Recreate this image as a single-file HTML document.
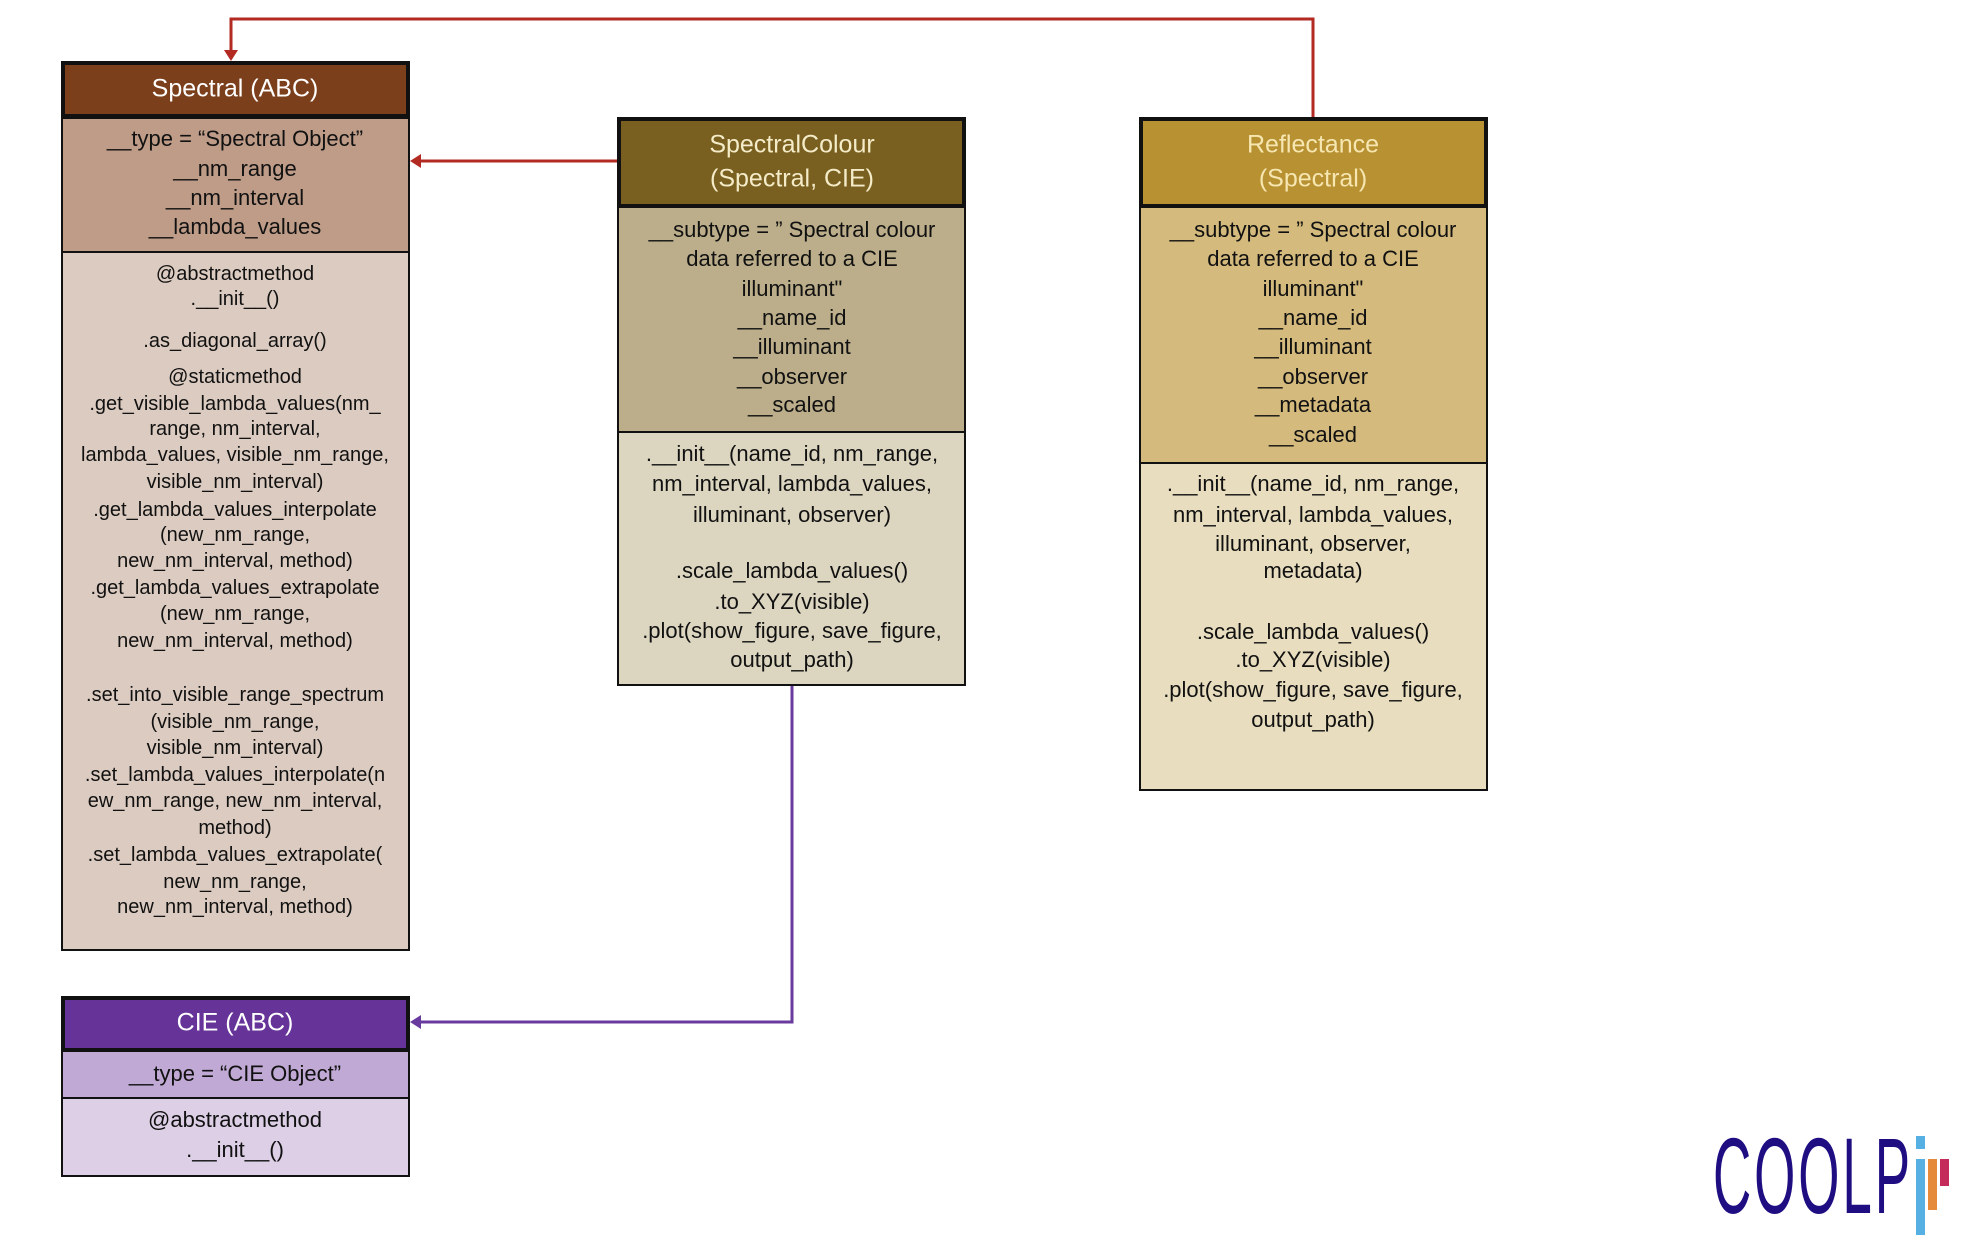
<!DOCTYPE html>
<html><head><meta charset="utf-8">
<style>
html,body{margin:0;padding:0;background:#fff;}
body{width:1978px;height:1248px;position:relative;overflow:hidden;font-family:"Liberation Sans",sans-serif;}
.r{position:absolute;box-sizing:border-box;border:2px solid #111;}
.h{border-width:4px;}
.t{position:absolute;transform:translate(-50%,-50%);white-space:nowrap;font-size:20px;color:#111;line-height:1;}
.a{font-size:22px;}
.hd{font-size:25px;}
</style></head><body>
<!-- Spectral -->
<div class="r" style="left:61px;top:117px;width:349px;height:136px;background:#BF9C88"></div>
<div class="r" style="left:61px;top:251px;width:349px;height:700px;background:#DCCBC0"></div>
<div class="r h" style="left:61px;top:61px;width:349px;height:57px;background:#7B3F1C"></div>
<!-- SpectralColour -->
<div class="r" style="left:617px;top:205px;width:349px;height:228px;background:#BCAE8A"></div>
<div class="r" style="left:617px;top:431px;width:349px;height:255px;background:#DCD5C0"></div>
<div class="r h" style="left:617px;top:117px;width:349px;height:91px;background:#7A6020"></div>
<!-- Reflectance -->
<div class="r" style="left:1139px;top:205px;width:349px;height:259px;background:#D4BA7C"></div>
<div class="r" style="left:1139px;top:462px;width:349px;height:329px;background:#E8DDBE"></div>
<div class="r h" style="left:1139px;top:117px;width:349px;height:91px;background:#B89133"></div>
<!-- CIE -->
<div class="r" style="left:61px;top:1049px;width:349px;height:50px;background:#C0A9D4"></div>
<div class="r" style="left:61px;top:1097px;width:349px;height:80px;background:#DCCFE6"></div>
<div class="r h" style="left:61px;top:996px;width:349px;height:56px;background:#663399"></div>

<svg style="position:absolute;left:0;top:0" width="1978" height="1248">
<polyline points="1313,117 1313,19 231,19 231,52" fill="none" stroke="#B22A22" stroke-width="3"/>
<polygon points="224,50 238,50 231,61" fill="#B22A22"/>
<line x1="617" y1="161" x2="420" y2="161" stroke="#B22A22" stroke-width="3"/>
<polygon points="410,161 421,154 421,168" fill="#B22A22"/>
<polyline points="792,686 792,1022 420,1022" fill="none" stroke="#6A3B9E" stroke-width="3"/>
<polygon points="410,1022 421,1015 421,1029" fill="#6A3B9E"/>
<rect x="1916" y="1136" width="9" height="13" fill="#56B0E3"/>
<rect x="1916" y="1159" width="9" height="76" fill="#56B0E3"/>
<rect x="1928" y="1159" width="9" height="51" fill="#E58A3A"/>
<rect x="1940" y="1159" width="9" height="27" fill="#C42A5A"/>
</svg>
<div style="position:absolute;left:1713px;top:1122px;font-size:108px;line-height:1;color:#1E0E82;transform:scaleX(0.49);transform-origin:0 0;letter-spacing:6px;">COOLP</div>

<!-- Spectral text -->
<div class="t hd" style="left:235px;top:89px;color:#fff">Spectral (ABC)</div>
<div class="t a" style="left:235px;top:139px">__type = “Spectral Object”</div>
<div class="t a" style="left:235px;top:169px">__nm_range</div>
<div class="t a" style="left:235px;top:198px">__nm_interval</div>
<div class="t a" style="left:235px;top:227px">__lambda_values</div>
<div class="t" style="left:235px;top:274px">@abstractmethod</div>
<div class="t" style="left:235px;top:299px">.__init__()</div>
<div class="t" style="left:235px;top:341px">.as_diagonal_array()</div>
<div class="t" style="left:235px;top:377px">@staticmethod</div>
<div class="t" style="left:235px;top:404px">.get_visible_lambda_values(nm_</div>
<div class="t" style="left:235px;top:429px">range, nm_interval,</div>
<div class="t" style="left:235px;top:455px">lambda_values, visible_nm_range,</div>
<div class="t" style="left:235px;top:482px">visible_nm_interval)</div>
<div class="t" style="left:235px;top:510px">.get_lambda_values_interpolate</div>
<div class="t" style="left:235px;top:535px">(new_nm_range,</div>
<div class="t" style="left:235px;top:561px">new_nm_interval, method)</div>
<div class="t" style="left:235px;top:588px">.get_lambda_values_extrapolate</div>
<div class="t" style="left:235px;top:614px">(new_nm_range,</div>
<div class="t" style="left:235px;top:641px">new_nm_interval, method)</div>
<div class="t" style="left:235px;top:695px">.set_into_visible_range_spectrum</div>
<div class="t" style="left:235px;top:722px">(visible_nm_range,</div>
<div class="t" style="left:235px;top:748px">visible_nm_interval)</div>
<div class="t" style="left:235px;top:775px">.set_lambda_values_interpolate(n</div>
<div class="t" style="left:235px;top:801px">ew_nm_range, new_nm_interval,</div>
<div class="t" style="left:235px;top:828px">method)</div>
<div class="t" style="left:235px;top:855px">.set_lambda_values_extrapolate(</div>
<div class="t" style="left:235px;top:882px">new_nm_range,</div>
<div class="t" style="left:235px;top:907px">new_nm_interval, method)</div>

<!-- SpectralColour text -->
<div class="t hd" style="left:792px;top:145px;color:#F4EBC8">SpectralColour</div>
<div class="t hd" style="left:792px;top:179px;color:#F4EBC8">(Spectral, CIE)</div>
<div class="t a" style="left:792px;top:230px">__subtype = ” Spectral colour</div>
<div class="t a" style="left:792px;top:259px">data referred to a CIE</div>
<div class="t a" style="left:792px;top:289px">illuminant"</div>
<div class="t a" style="left:792px;top:318px">__name_id</div>
<div class="t a" style="left:792px;top:347px">__illuminant</div>
<div class="t a" style="left:792px;top:377px">__observer</div>
<div class="t a" style="left:792px;top:405px">__scaled</div>
<div class="t a" style="left:792px;top:454px">.__init__(name_id, nm_range,</div>
<div class="t a" style="left:792px;top:484px">nm_interval, lambda_values,</div>
<div class="t a" style="left:792px;top:515px">illuminant, observer)</div>
<div class="t a" style="left:792px;top:571px">.scale_lambda_values()</div>
<div class="t a" style="left:792px;top:602px">.to_XYZ(visible)</div>
<div class="t a" style="left:792px;top:631px">.plot(show_figure, save_figure,</div>
<div class="t a" style="left:792px;top:660px">output_path)</div>

<!-- Reflectance text -->
<div class="t hd" style="left:1313px;top:145px;color:#F6E6B0">Reflectance</div>
<div class="t hd" style="left:1313px;top:179px;color:#F6E6B0">(Spectral)</div>
<div class="t a" style="left:1313px;top:230px">__subtype = ” Spectral colour</div>
<div class="t a" style="left:1313px;top:259px">data referred to a CIE</div>
<div class="t a" style="left:1313px;top:289px">illuminant"</div>
<div class="t a" style="left:1313px;top:318px">__name_id</div>
<div class="t a" style="left:1313px;top:347px">__illuminant</div>
<div class="t a" style="left:1313px;top:377px">__observer</div>
<div class="t a" style="left:1313px;top:405px">__metadata</div>
<div class="t a" style="left:1313px;top:435px">__scaled</div>
<div class="t a" style="left:1313px;top:484px">.__init__(name_id, nm_range,</div>
<div class="t a" style="left:1313px;top:515px">nm_interval, lambda_values,</div>
<div class="t a" style="left:1313px;top:544px">illuminant, observer,</div>
<div class="t a" style="left:1313px;top:571px">metadata)</div>
<div class="t a" style="left:1313px;top:632px">.scale_lambda_values()</div>
<div class="t a" style="left:1313px;top:660px">.to_XYZ(visible)</div>
<div class="t a" style="left:1313px;top:690px">.plot(show_figure, save_figure,</div>
<div class="t a" style="left:1313px;top:720px">output_path)</div>

<!-- CIE text -->
<div class="t hd" style="left:235px;top:1023px;color:#fff">CIE (ABC)</div>
<div class="t a" style="left:235px;top:1074px">__type = “CIE Object”</div>
<div class="t a" style="left:235px;top:1120px">@abstractmethod</div>
<div class="t a" style="left:235px;top:1150px">.__init__()</div>
</body></html>
